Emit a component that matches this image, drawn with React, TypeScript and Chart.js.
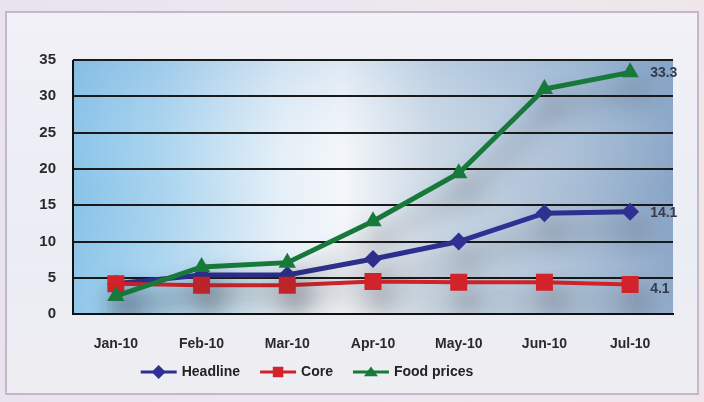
import React, { useEffect, useRef } from "react";
import { Chart, registerables } from "chart.js";

Chart.register(...registerables);

const months = ["Jan-10", "Feb-10", "Mar-10", "Apr-10", "May-10", "Jun-10", "Jul-10"];
const headline = [4.2, 5.4, 5.4, 7.6, 10.0, 13.9, 14.1];
const core = [4.2, 4.0, 4.0, 4.5, 4.4, 4.4, 4.1];
const foodPrices = [2.5, 6.5, 7.1, 12.8, 19.4, 31.0, 33.3];
const seriesNames = ["Headline", "Core", "Food prices"];
const seriesColors = ["#2e3192", "#d2232a", "#17793a"];
const seriesMarkers = ["rectRot", "rect", "triangle"];
const seriesOrder = [2, 1, 0];
const yTicks = [0, 5, 10, 15, 20, 25, 30, 35];

const FONT = "'Liberation Sans', Arial, sans-serif";

function drawMarker(ctx: CanvasRenderingContext2D, style: string, x: number, y: number, r: number, color: string) {
  ctx.save();
  ctx.fillStyle = color;
  ctx.beginPath();
  if (style === "rectRot") {
    ctx.moveTo(x, y - r);
    ctx.lineTo(x + r, y);
    ctx.lineTo(x, y + r);
    ctx.lineTo(x - r, y);
  } else if (style === "rect") {
    ctx.rect(x - r * 0.75, y - r * 0.75, r * 1.5, r * 1.5);
  } else {
    ctx.moveTo(x, y - r * 0.8);
    ctx.lineTo(x + r, y + r * 0.6);
    ctx.lineTo(x - r, y + r * 0.6);
  }
  ctx.closePath();
  ctx.fill();
  ctx.restore();
}

const plotBg = {
  id: "plotBg",
  beforeDraw(chart: any) {
    const { ctx, chartArea: a } = chart;
    ctx.save();
    const g = ctx.createLinearGradient(a.left, 0, a.right, 0);
    g.addColorStop(0, "#88c3e8");
    g.addColorStop(0.15, "#a9d4ef");
    g.addColorStop(0.35, "#e6f0f8");
    g.addColorStop(0.45, "#f4f7fa");
    g.addColorStop(0.6, "#cbd8e5");
    g.addColorStop(0.85, "#a6bcd4");
    g.addColorStop(1, "#88a4c6");
    ctx.fillStyle = g;
    ctx.fillRect(a.left, a.top, a.right - a.left, a.bottom - a.top);
    const v = ctx.createLinearGradient(0, a.top, 0, a.bottom);
    v.addColorStop(0, "rgba(110,160,210,0.18)");
    v.addColorStop(0.5, "rgba(255,255,255,0)");
    v.addColorStop(1, "rgba(255,255,255,0.08)");
    ctx.fillStyle = v;
    ctx.fillRect(a.left, a.top, a.right - a.left, a.bottom - a.top);
    ctx.restore();
  },
  beforeDatasetsDraw(chart: any) {
    const ctx = chart.ctx;
    ctx.save();
    ctx.shadowColor = "rgba(50,50,60,0.5)";
    ctx.shadowBlur = 24;
    ctx.shadowOffsetX = 8;
    ctx.shadowOffsetY = 18;
  },
  afterDatasetsDraw(chart: any) {
    chart.ctx.restore();
  },
};

const decorations = {
  id: "decorations",
  afterDraw(chart: any) {
    const { ctx, chartArea: a } = chart;
    ctx.save();
    ctx.strokeStyle = "#111";
    ctx.lineWidth = 2;
    ctx.beginPath();
    ctx.moveTo(a.left, a.top);
    ctx.lineTo(a.left, a.bottom);
    ctx.stroke();
    // end value labels
    ctx.font = `bold 14px ${FONT}`;
    ctx.fillStyle = "#353a4c";
    ctx.textAlign = "left";
    ctx.textBaseline = "middle";
    chart.data.datasets.forEach((ds: any, i: number) => {
      const meta = chart.getDatasetMeta(i);
      const last = meta.data[meta.data.length - 1];
      const val = ds.data[ds.data.length - 1];
      ctx.fillText(String(val), last.x + 20, last.y + (i === 1 ? 5 : 1));
    });
    // legend
    const items = chart.data.datasets.map((ds: any) => ds.label);
    const lineLen = 36;
    const gapAfterLine = 5;
    const gapBetween = 20;
    const widths = items.map((t: string) => lineLen + gapAfterLine + ctx.measureText(t).width);
    const total = widths.reduce((s: number, w: number) => s + w, 0) + gapBetween * (items.length - 1);
    let x = (a.left + a.right) / 2 - 66 - total / 2;
    const y = 372;
    items.forEach((t: string, i: number) => {
      const c = seriesColors[i];
      ctx.strokeStyle = c;
      ctx.lineWidth = 3;
      ctx.beginPath();
      ctx.moveTo(x, y);
      ctx.lineTo(x + lineLen, y);
      ctx.stroke();
      drawMarker(ctx, seriesMarkers[i], x + lineLen / 2, y, 7, c);
      ctx.fillStyle = "#222";
      ctx.textAlign = "left";
      ctx.fillText(t, x + lineLen + gapAfterLine, y);
      x += widths[i] + gapBetween;
    });
    ctx.restore();
  },
};

export default function App() {
  const ref = useRef<HTMLCanvasElement>(null);
  useEffect(() => {
    const values = [headline, core, foodPrices];
    const radii = [9, 12, 10];
    const chart = new Chart(ref.current!, {
      type: "line",
      data: {
        labels: months,
        datasets: seriesNames.map((name, i) => ({
          label: name,
          data: values[i],
          order: seriesOrder[i],
          borderColor: seriesColors[i],
          backgroundColor: seriesColors[i],
          borderWidth: i === 1 ? 4 : 5,
          pointStyle: seriesMarkers[i] as any,
          pointRadius: radii[i],
          pointBorderWidth: 0,
          pointBackgroundColor: seriesColors[i],
          tension: 0,
        })),
      },
      options: {
        animation: false,
        responsive: false,
        layout: { padding: { left: 0, right: 31, top: 60, bottom: 27 } },
        plugins: { legend: { display: false }, tooltip: { enabled: false } },
        scales: {
          x: {
            offset: true,
            grid: { display: false, drawTicks: false },
            border: { display: true, color: "#111", width: 2 },
            ticks: { color: "#2a2a2a", font: { family: FONT, size: 14, weight: "bold" }, padding: 22, maxRotation: 0 },
          },
          y: {
            min: 0,
            max: 35,
            afterFit(scale: any) {
              scale.width = 73;
            },
            afterBuildTicks(scale: any) {
              scale.ticks = yTicks.map((v) => ({ value: v }));
            },
            grid: { color: "#1a1a1a", lineWidth: 2, drawTicks: false },
            border: { display: false },
            ticks: { color: "#2a2a2a", font: { family: FONT, size: 15, weight: "bold" }, padding: 17 },
          },
        },
      },
      plugins: [plotBg, decorations],
    });
    return () => chart.destroy();
  }, []);
  return (
    <div
      style={{
        position: "fixed",
        left: 0,
        top: 0,
        width: 704,
        height: 402,
        background: "linear-gradient(90deg, #e9e3ee 0%, #ece7ef 50%, #f0e6ea 100%)",
        overflow: "hidden",
      }}
    >
      <div
        style={{
          position: "absolute",
          left: 5,
          top: 11,
          width: 694,
          height: 384,
          border: "2px solid #c3b8cb",
          background: "linear-gradient(180deg, #f1f1f7 0%, #ebedf5 60%, #eeeef2 100%)",
          boxSizing: "border-box",
        }}
      />
      <canvas ref={ref} width={704} height={402} style={{ position: "absolute", left: 0, top: 0 }} />
    </div>
  );
}
